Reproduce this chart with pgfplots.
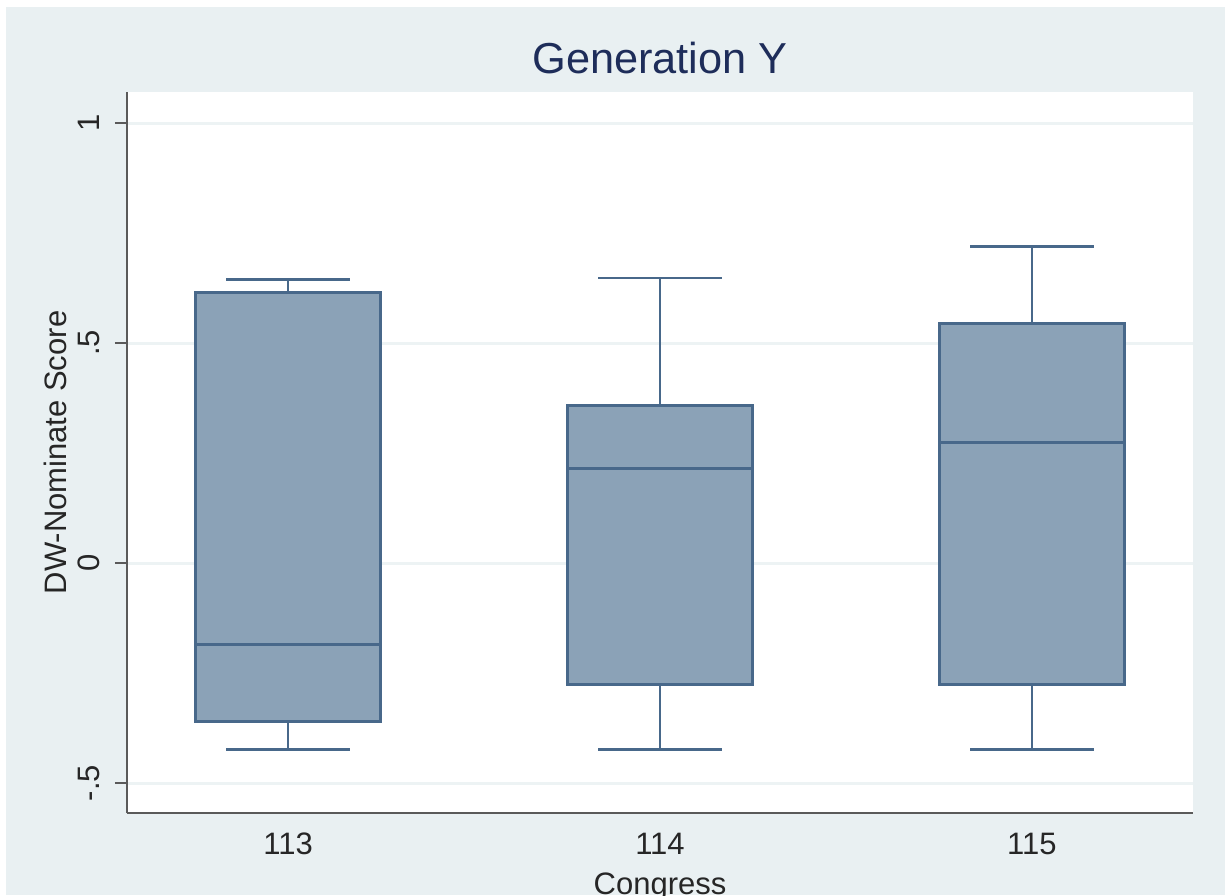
\documentclass[border=0pt]{standalone}
\usepackage{pgfplots}
\pgfplotsset{compat=1.18}
\usepackage{fontspec}
\setmainfont{Liberation Sans}
\definecolor{bgc}{HTML}{E9F0F2}
\definecolor{gridc}{HTML}{EDF3F4}
\definecolor{boxfill}{HTML}{8BA2B7}
\definecolor{boxedge}{HTML}{48688A}
\definecolor{axisc}{HTML}{5A5A5A}
\definecolor{titlec}{HTML}{1E2D5A}
\begin{document}
\begin{tikzpicture}
\fill[bgc] (-121*0.3pt,-82*0.3pt) rectangle (1098*0.3pt,806*0.3pt);
\begin{axis}[
  at={(0,0)}, anchor=south west,
  scale only axis,
  width=319.8pt, height=216.3pt,
  xmin=112.567, xmax=115.433,
  ymin=-0.568, ymax=1.0705,
  axis background/.style={fill=white},
  axis x line*=bottom, axis y line*=left,
  axis line style={axisc, line width=0.7pt, -},
  xtick={113,114,115},
  xticklabels={113,114,115},
  ytick={-0.5,0,0.5,1},
  yticklabels={-.5,0,.5,1},
  ymajorgrids,
  grid style={gridc, line width=0.9pt},
  x tick style={draw=none},
  y tick style={axisc, line width=0.6pt},
  tick align=outside,
  major tick length=3.6pt,
  tick label style={font=\fontsize{9.3pt}{11pt}\selectfont, color=black!85},
  yticklabel style={xshift=-4.5pt, rotate=90, anchor=base, inner sep=0pt},
  xticklabel style={anchor=base, inner sep=0pt, yshift=-8.7pt},
  title={Generation Y},
  title style={at={(axis description cs:0.5,1)}, anchor=base, inner sep=0pt, yshift=-0.6pt, font=\fontsize{13pt}{15pt}\selectfont, color=titlec},
  xlabel={Congress},
  xlabel style={at={(axis description cs:0.5,0)}, anchor=base, inner sep=0pt, yshift=-24.3pt, font=\fontsize{9.3pt}{11pt}\selectfont, color=black!85},
  ylabel={DW-Nominate Score},
  ylabel style={at={(axis description cs:-0.0563,0.5)}, rotate=0, anchor=base, inner sep=0pt, font=\fontsize{9.3pt}{11pt}\selectfont, color=black!85},
  whisk/.style={draw=boxedge, line width=0.8pt, forget plot},
  boxsty/.style={draw=boxedge, fill=boxfill, line width=0.9pt, line join=miter, forget plot},
  med/.style={draw=boxedge, line width=0.9pt, forget plot},
]
% ---- Congress 113: lw -0.423, q1 -0.361, med -0.186, q3 0.614, uw 0.645
\addplot[whisk] coordinates {(113,0.614) (113,0.645)};
\addplot[whisk] coordinates {(112.8335,0.645) (113.1665,0.645)};
\addplot[whisk] coordinates {(113,-0.361) (113,-0.423)};
\addplot[whisk] coordinates {(112.8335,-0.423) (113.1665,-0.423)};
\addplot[boxsty] coordinates {(112.7515,-0.361) (113.2485,-0.361) (113.2485,0.614) (112.7515,0.614)} -- cycle;
\addplot[med] coordinates {(112.7515,-0.186) (113.2485,-0.186)};
% ---- Congress 114: lw -0.423, q1 -0.277, med 0.215, q3 0.359, uw 0.648
\addplot[whisk] coordinates {(114,0.359) (114,0.648)};
\addplot[whisk] coordinates {(113.8335,0.648) (114.1665,0.648)};
\addplot[whisk] coordinates {(114,-0.277) (114,-0.423)};
\addplot[whisk] coordinates {(113.8335,-0.423) (114.1665,-0.423)};
\addplot[boxsty] coordinates {(113.7515,-0.277) (114.2485,-0.277) (114.2485,0.359) (113.7515,0.359)} -- cycle;
\addplot[med] coordinates {(113.7515,0.215) (114.2485,0.215)};
% ---- Congress 115: lw -0.423, q1 -0.277, med 0.273, q3 0.545, uw 0.720
\addplot[whisk] coordinates {(115,0.545) (115,0.720)};
\addplot[whisk] coordinates {(114.8335,0.720) (115.1665,0.720)};
\addplot[whisk] coordinates {(115,-0.277) (115,-0.423)};
\addplot[whisk] coordinates {(114.8335,-0.423) (115.1665,-0.423)};
\addplot[boxsty] coordinates {(114.7515,-0.277) (115.2485,-0.277) (115.2485,0.545) (114.7515,0.545)} -- cycle;
\addplot[med] coordinates {(114.7515,0.273) (115.2485,0.273)};
\end{axis}
\pgfresetboundingbox
\path[use as bounding box] (-127*0.3pt,-82*0.3pt) rectangle (1098*0.3pt,813*0.3pt);
\end{tikzpicture}
\end{document}
